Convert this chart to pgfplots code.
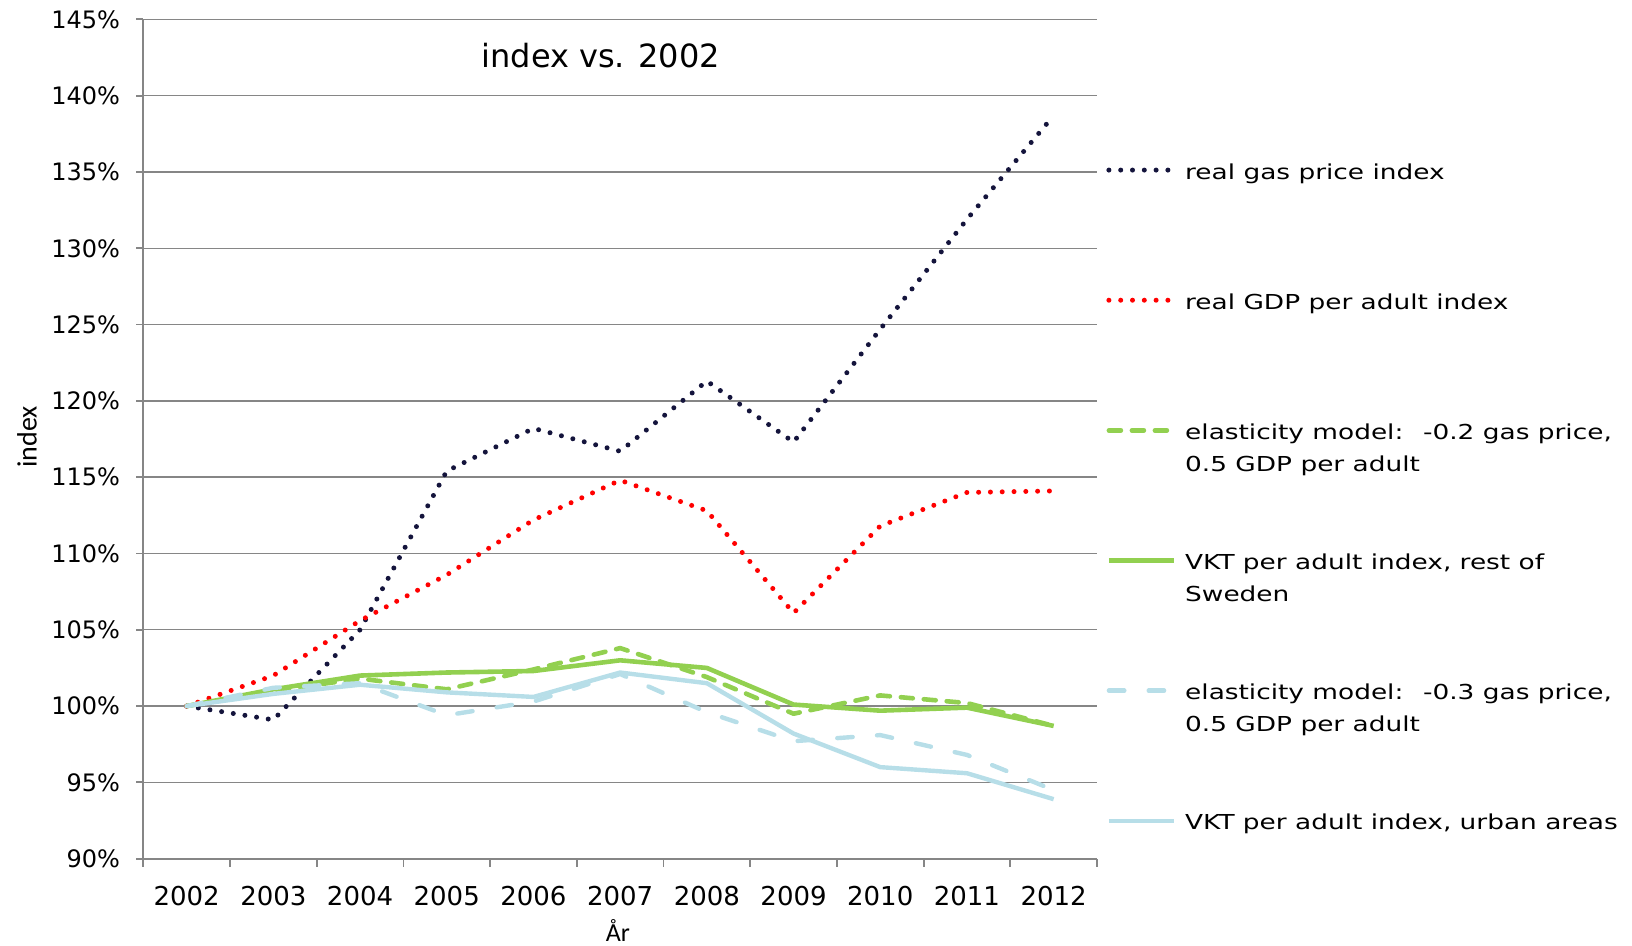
\documentclass[border=0pt]{standalone}
\usepackage{pgfplots}
\pgfplotsset{compat=1.18}
\usepackage{fontspec}
\setmainfont{DejaVu Sans}
\newfontfamily\legfont{DejaVu Sans}[FakeStretch=1.28]
\newfontfamily\carlito{Carlito}
\definecolor{gasc}{RGB}{20,20,60}
\definecolor{gdpc}{RGB}{255,0,0}
\definecolor{grn}{RGB}{146,208,80}
\definecolor{lblue}{RGB}{183,222,232}
\definecolor{axgray}{RGB}{134,134,134}

\pgfplotstableread{
x gas gdp elgreen vktrest elblue vkturban
0 100.0 100.0 100.0 100.0 100.0 100.0
1 99.1 102.0 101.0 101.1 101.2 100.8
2 105.0 105.6 101.8 102.0 101.5 101.4
3 115.4 108.6 101.1 102.2 99.4 100.9
4 118.2 112.2 102.4 102.3 100.3 100.6
5 116.7 114.8 103.8 103.0 102.1 102.2
6 121.3 112.8 101.9 102.5 99.6 101.5
7 117.3 106.1 99.5 100.1 97.7 98.2
8 124.7 111.8 100.7 99.7 98.1 96.0
9 131.9 114.0 100.2 99.9 96.8 95.6
10 138.7 114.1 98.7 98.7 94.5 93.9
}\datatable

\begin{document}
\begin{tikzpicture}
\path[use as bounding box] (0,0) rectangle (816pt,473pt);
\begin{axis}[
  at={(71.65pt,43.65pt)}, anchor=south west,
  width=476.85pt, height=419.65pt, scale only axis,
  xmin=-0.5, xmax=10.5, ymin=90, ymax=145,
  axis x line*=bottom, axis y line*=left,
  axis line style={axgray, line width=0.9pt, -},
  xtick={0,...,10},
  xticklabels={2002,2003,2004,2005,2006,2007,2008,2009,2010,2011,2012},
  minor xtick={-0.5,0.5,...,10.5},
  major x tick style={draw=none},
  minor x tick style={axgray, line width=0.9pt},
  ytick={90,95,...,145},
  y tick style={axgray, line width=0.9pt},
  tick align=outside,
  major tick length=3.5pt,
  minor tick length=4pt,
  ymajorgrids,
  grid style={axgray, line width=0.7pt},
  yticklabel={\pgfmathprintnumber{\tick}\%},
  /pgf/number format/assume math mode=true,
  yticklabel style={font=\fontsize{12}{14}\selectfont, anchor=east, inner sep=0pt, xshift=-8pt},
  xticklabel style={font=\fontsize{13}{15}\selectfont, anchor=north, inner sep=0pt, yshift=-9.9pt},
  every axis y label/.style={at={(axis description cs:-0.1219,0.5024)}, rotate=90, anchor=center, font=\carlito\fontsize{14}{16}\selectfont},
  ylabel={index},
  every axis x label/.style={at={(axis description cs:0.4977,-0.0855)}, anchor=center, inner sep=0pt, font=\carlito\fontsize{13}{15}\selectfont},
  xlabel={År},
  clip=false,
  legend image code/.code={\path (0pt,0pt); \draw[#1] (-1pt,20.6pt) -- (31.5pt,20.6pt);},
  legend style={draw=none, fill=none, inner sep=0pt,
    at={(1.00943,0.8371)}, anchor=north west,
    font=\legfont\fontsize{10.3}{16.1}\selectfont,
    nodes={align=left, inner sep=0pt},
    cells={anchor=base west},
    row sep=36.2pt, column sep=4.4pt},
]
\addplot[gasc, line width=2.5pt, line cap=round, dash pattern=on 0pt off 5.9pt] table[x=x,y=gas]{\datatable};
\addlegendentry{\strut real gas price index\\\strut}
\addplot[gdpc, line width=2.5pt, line cap=round, dash pattern=on 0pt off 5.9pt] table[x=x,y=gdp]{\datatable};
\addlegendentry{\strut real GDP per adult index\\\strut}
\addplot[grn, line width=2.3pt, line cap=round, line join=round, dash pattern=on 6pt off 5.5pt] table[x=x,y=elgreen]{\datatable};
\addlegendentry{\strut elasticity model: \ -0.2 gas price,\\\strut 0.5 GDP per adult}
\addplot[grn, line width=2.3pt, line join=round] table[x=x,y=vktrest]{\datatable};
\addlegendentry{\strut VKT per adult index, rest of\\\strut Sweden}
\addplot[lblue, line width=2.2pt, line cap=round, line join=round, dash pattern=on 7.7pt off 12.2pt] table[x=x,y=elblue]{\datatable};
\addlegendentry{\strut elasticity model: \ -0.3 gas price,\\\strut 0.5 GDP per adult}
\addplot[lblue, line width=2.2pt, line join=round] table[x=x,y=vkturban]{\datatable};
\addlegendentry{\strut VKT per adult index, urban areas\\\strut}
\node[anchor=base, font=\fontsize{16}{19}\selectfont] at (axis description cs:0.4797,0.943) {index vs. 2002};
\end{axis}
\end{tikzpicture}
\end{document}
